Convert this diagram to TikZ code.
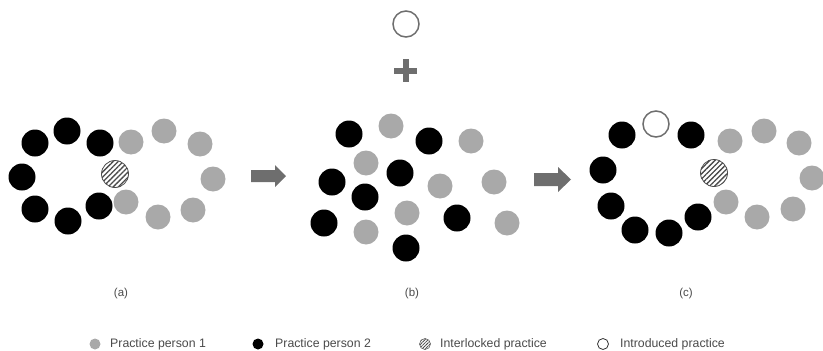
\documentclass[tikz,border=0pt]{standalone}
\usepackage{fontspec}
\setmainfont{Liberation Sans}
\usetikzlibrary{patterns.meta}
\definecolor{pgray}{HTML}{A9A9A9}
\definecolor{agray}{HTML}{6E6E6E}
\definecolor{tgray}{HTML}{4A4A4A}
\tikzset{
  dot/.style={circle, inner sep=0pt, minimum size=26pt},
  pone/.style={dot, fill=pgray, minimum size=25pt},
  ptwo/.style={dot, fill=black, minimum size=27pt},
  plock/.style={dot, minimum size=27pt, draw=tgray, line width=0.8pt,
    pattern={Lines[angle=45, distance=3.6pt, line width=1.3pt]}, pattern color=tgray},
  pnew/.style={dot, minimum size=26pt, draw=agray, line width=1.5pt, fill=white},
  keyone/.style={pone, minimum size=11pt},
  keytwo/.style={ptwo, minimum size=11pt},
  keylock/.style={plock, minimum size=11pt, line width=0.5pt,
    pattern={Lines[angle=45, distance=2.2pt, line width=0.8pt]}},
  keynew/.style={pnew, minimum size=11pt, line width=0.8pt, draw=black!80},
  keytext/.style={anchor=west, inner sep=0pt, text=tgray, font=\fontsize{12.3}{14}\selectfont},
  caption/.style={inner sep=0pt, text=tgray, font=\fontsize{11.5}{14}\selectfont},
  stage/.style={fill=agray},
}
\begin{document}
\begin{tikzpicture}[x=1pt, y=-1pt]
\useasboundingbox (0,0) rectangle (823,351);

% ---- (a): two separate circles of practices touching at one shared practice
\node[ptwo] (a1) at (35,143) {};
\node[ptwo] (a2) at (67,131) {};
\node[ptwo] (a3) at (100,143) {};
\node[ptwo] (a4) at (22,177) {};
\node[ptwo] (a5) at (35,209) {};
\node[ptwo] (a6) at (68,221) {};
\node[ptwo] (a7) at (99,206) {};
\node[plock] (ax) at (115,174) {};
\node[pone] (a8) at (131,142) {};
\node[pone] (a9) at (164,131) {};
\node[pone] (a10) at (200,144) {};
\node[pone] (a11) at (213,179) {};
\node[pone] (a12) at (193,210) {};
\node[pone] (a13) at (158,217) {};
\node[pone] (a14) at (126,202) {};
\node[caption] (capa) at (121,294) {(a)};

% ---- arrow (a) -> (b)
\fill[stage] (251,170) -- (275,170) -- (275,165) -- (286,176) -- (275,187)
  -- (275,182) -- (251,182) -- cycle;

% ---- (b): practices mixed, with a new practice added on top
\node[pnew] (bnew) at (406,24) {};
\draw[agray, line width=6pt] (394,70.5) -- (417,70.5);
\draw[agray, line width=6pt] (405.5,59) -- (405.5,82);
\node[ptwo] (b1) at (349,134) {};
\node[ptwo] (b2) at (429,141) {};
\node[ptwo] (b3) at (400,173) {};
\node[ptwo] (b4) at (332,182) {};
\node[ptwo] (b5) at (365,197) {};
\node[ptwo] (b6) at (324,223) {};
\node[ptwo] (b7) at (457,218) {};
\node[ptwo] (b8) at (406,248) {};
\node[pone] (b9) at (391,126) {};
\node[pone] (b10) at (471,141) {};
\node[pone] (b11) at (366,163) {};
\node[pone] (b12) at (440,186) {};
\node[pone] (b13) at (494,182) {};
\node[pone] (b14) at (407,213) {};
\node[pone] (b15) at (366,232) {};
\node[pone] (b16) at (507,223) {};
\node[caption] (capb) at (412,294) {(b)};

% ---- arrow (b) -> (c)
\fill[stage] (534,173) -- (558,173) -- (558,167) -- (571,179.5) -- (558,192)
  -- (558,186) -- (534,186) -- cycle;

% ---- (c): the introduced practice joins the second circle
\node[pnew] (cnew) at (656,124) {};
\node[ptwo] (c1) at (622,135) {};
\node[ptwo] (c2) at (691,135) {};
\node[ptwo] (c3) at (603,170) {};
\node[ptwo] (c4) at (611,206) {};
\node[ptwo] (c5) at (635,230) {};
\node[ptwo] (c6) at (669,233) {};
\node[ptwo] (c7) at (698,217) {};
\node[plock] (cx) at (714,173) {};
\node[pone] (c8) at (730,141) {};
\node[pone] (c9) at (764,131) {};
\node[pone] (c10) at (799,143) {};
\node[pone] (c11) at (812,178) {};
\node[pone] (c12) at (793,209) {};
\node[pone] (c13) at (757,217) {};
\node[pone] (c14) at (726,202) {};
\node[caption] (capc) at (686,294) {(c)};

% ---- legend
\node[keyone] (k1) at (95,344) {};
\node[keytext] (t1) at (110,344) {Practice person 1};
\node[keytwo] (k2) at (258,344) {};
\node[keytext] (t2) at (275,344) {Practice person 2};
\node[keylock] (k3) at (425,344) {};
\node[keytext] (t3) at (440,344) {Interlocked practice};
\node[keynew] (k4) at (603,344) {};
\node[keytext] (t4) at (620,344) {Introduced practice};
\end{tikzpicture}
\end{document}
